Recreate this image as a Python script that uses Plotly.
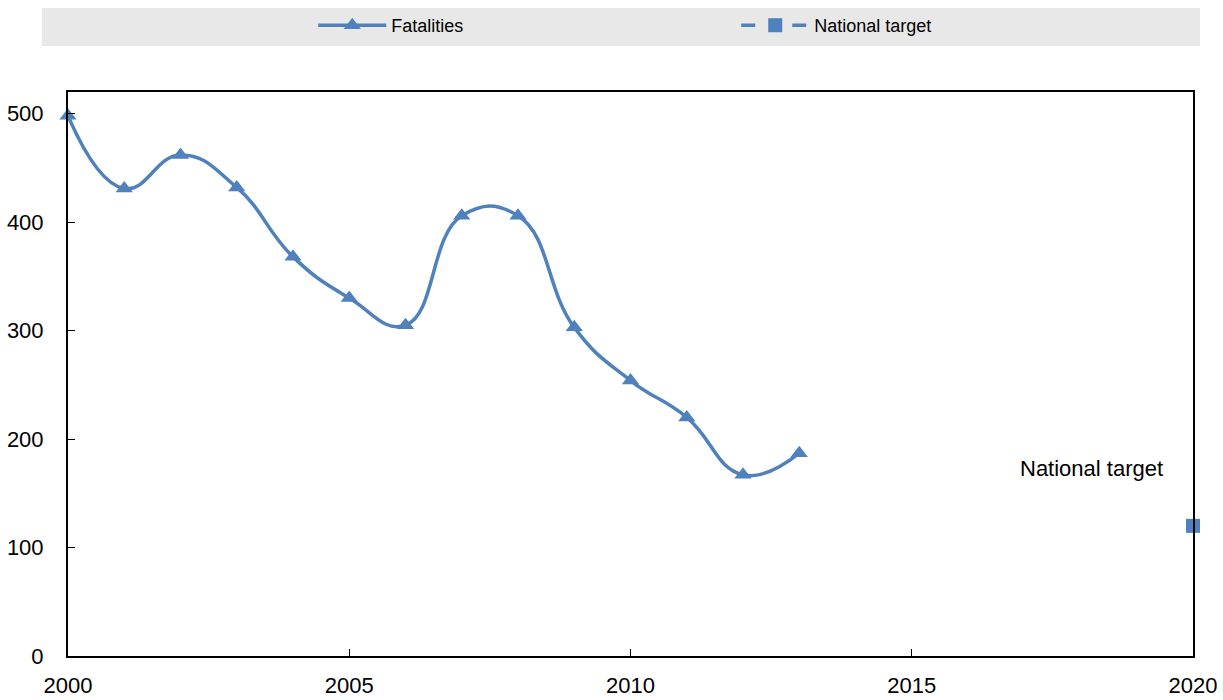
import plotly.graph_objects as go

years = [2000, 2001, 2002, 2003, 2004, 2005, 2006, 2007, 2008, 2009, 2010, 2011, 2012, 2013]
fatalities = [498, 431, 462, 432, 368, 330, 305, 406, 406, 303, 254, 220, 167, 187]
target_years = [2020]
target_values = [120]
x_ticks = [2000, 2005, 2010, 2015, 2020]
y_ticks = [0, 100, 200, 300, 400, 500]

BLUE = "#4F81BD"
FONT = "Liberation Sans Narrow, Arial Narrow, Liberation Sans, Arial, sans-serif"

fig = go.Figure()
fig.add_trace(go.Scatter(
    x=years, y=fatalities, name="Fatalities", mode="lines+markers",
    line=dict(color=BLUE, width=3.5, shape="spline", smoothing=1.3),
    marker=dict(symbol="triangle-up", size=15, color=BLUE),
    cliponaxis=False,
))
fig.add_trace(go.Scatter(
    x=target_years, y=target_values, name="National target", mode="lines+markers",
    line=dict(color=BLUE, width=3.5, dash="14px,37px"),
    marker=dict(symbol="square", size=14, color=BLUE),
    cliponaxis=False,
))

fig.add_annotation(x=2018.2, y=173, text="National target", showarrow=False,
                   font=dict(size=22, color="black", family=FONT))

fig.add_shape(type="rect", xref="paper", yref="paper",
              x0=-0.0231, x1=1.0062, y0=1.0816, y1=1.149,
              fillcolor="#E8E8E8", line=dict(width=0), layer="below")

fig.update_layout(
    width=1223, height=700,
    margin=dict(l=68, r=30, t=92, b=44, autoexpand=False),
    paper_bgcolor="white", plot_bgcolor="white",
    font=dict(family=FONT, size=22, color="black"),
    showlegend=True,
    legend=dict(orientation="h", x=0.594, xanchor="center", y=1.118, yanchor="middle",
                bgcolor="rgba(0,0,0,0)", font=dict(size=18, family=FONT),
                itemwidth=68, entrywidth=340, entrywidthmode="pixels"),
    xaxis=dict(range=[2000, 2020], tickvals=x_ticks, showgrid=False, zeroline=False,
               showline=True, linecolor="black", linewidth=2, mirror=True,
               ticks="inside", ticklen=7, tickwidth=1, tickcolor="black",
               tickfont=dict(size=22), ticklabelstandoff=9, automargin=False),
    yaxis=dict(range=[0, 520], tickvals=y_ticks, showgrid=False, zeroline=False,
               showline=True, linecolor="black", linewidth=2, mirror=True,
               ticks="inside", ticklen=7, tickwidth=1, tickcolor="black",
               tickfont=dict(size=22), ticklabelstandoff=18, automargin=False),
)

fig.write_html("out.html", config={"displayModeBar": False},
               post_script="document.body.style.margin='0px';")
